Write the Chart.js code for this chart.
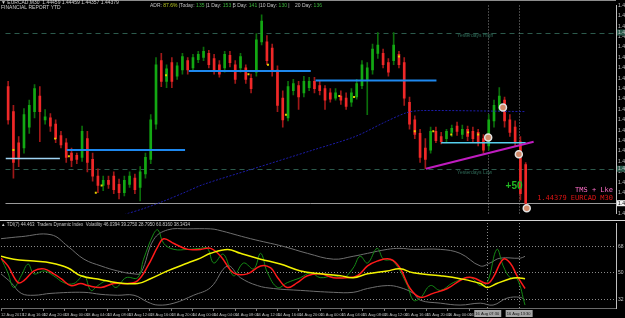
<!DOCTYPE html>
<html>
<head>
<meta charset="utf-8">
<script src="https://cdn.jsdelivr.net/npm/chart.js@4.4.1/dist/chart.umd.min.js"></script>
<style>
  html, body { margin: 0; padding: 0; background: #000; }
  #wrap { position: relative; width: 625px; height: 318px; background: #000; overflow: hidden; }
  #priceChart { position: absolute; left: 0; top: 0; }
  #tdiChart { position: absolute; left: 0; top: 219px; }
</style>
</head>
<body>
<div id="wrap">
  <canvas id="priceChart" width="625" height="219"></canvas>
  <canvas id="tdiChart" width="625" height="99"></canvas>
</div>
<script>
// EURCAD candles, one per slot
const opens = [
  1.4550,1.4526,1.4496,1.4491,1.4511,1.4526,1.4541,1.4518,1.4520,1.4514,
  1.4503,1.4496,1.4486,1.4484,1.4482,1.4500,1.4480,1.4464,1.4455,1.4460,
  1.4464,1.4456,1.4448,1.4456,1.4462,1.4453,1.4466,1.4480,1.4514,1.4575,
  1.4555,1.4573,1.4560,1.4566,1.4575,1.4568,1.4576,1.4578,1.4582,1.4577,
  1.4571,1.4568,1.4580,1.4571,1.4568,1.4568,1.4558,1.4564,1.4593,1.4593,
  1.4587,1.4566,1.4539,1.4520,1.4546,1.4551,1.4544,1.4549,1.4555,1.4551,
  1.4548,1.4544,1.4539,1.4541,1.4539,1.4535,1.4540,1.4551,1.4557,1.4566,
  1.4582,1.4582,1.4573,1.4575,1.4581,1.4573,1.4535,1.4518,1.4505,1.4491,
  1.4489,1.4507,1.4502,1.4500,1.4506,1.4512,1.4504,1.4509,1.4507,1.4506,
  1.4500,1.4493,1.4517,1.4529,1.4537,1.4518,1.4511,1.4497,1.4475
];
const highs = [
  1.4555,1.4532,1.4502,1.4529,1.4537,1.4552,1.4550,1.4528,1.4524,1.4518,
  1.4507,1.4500,1.4491,1.4486,1.4512,1.4507,1.4486,1.4471,1.4464,1.4464,
  1.4468,1.4461,1.4464,1.4468,1.4466,1.4473,1.4486,1.4523,1.4578,1.4582,
  1.4571,1.4578,1.4573,1.4582,1.4578,1.4581,1.4584,1.4588,1.4585,1.4581,
  1.4575,1.4584,1.4584,1.4575,1.4582,1.4571,1.4562,1.4601,1.4619,1.4599,
  1.4591,1.4570,1.4546,1.4555,1.4557,1.4555,1.4560,1.4559,1.4559,1.4555,
  1.4551,1.4548,1.4548,1.4546,1.4544,1.4548,1.4557,1.4575,1.4573,1.4591,
  1.4602,1.4586,1.4577,1.4602,1.4584,1.4578,1.4540,1.4522,1.4509,1.4500,
  1.4511,1.4511,1.4506,1.4509,1.4513,1.4516,1.4513,1.4512,1.4511,1.4509,
  1.4504,1.4523,1.4537,1.4549,1.4540,1.4523,1.4517,1.4502,1.4477
];
const lows = [
  1.4514,1.4462,1.4473,1.4486,1.4505,1.4520,1.4497,1.4514,1.4507,1.4496,
  1.4491,1.4477,1.4473,1.4476,1.4478,1.4468,1.4459,1.4448,1.4450,1.4452,
  1.4447,1.4442,1.4445,1.4453,1.4447,1.4440,1.4462,1.4476,1.4509,1.4550,
  1.4549,1.4549,1.4557,1.4562,1.4562,1.4566,1.4573,1.4575,1.4568,1.4562,
  1.4559,1.4564,1.4569,1.4553,1.4564,1.4553,1.4544,1.4560,1.4590,1.4571,
  1.4560,1.4526,1.4511,1.4517,1.4542,1.4528,1.4540,1.4546,1.4544,1.4542,
  1.4528,1.4535,1.4537,1.4533,1.4528,1.4531,1.4538,1.4548,1.4523,1.4562,
  1.4577,1.4568,1.4560,1.4571,1.4568,1.4532,1.4509,1.4500,1.4477,1.4471,
  1.4486,1.4496,1.4495,1.4497,1.4502,1.4503,1.4500,1.4498,1.4496,1.4493,
  1.4486,1.4489,1.4511,1.4526,1.4511,1.4502,1.4493,1.4441,1.4433
];
const closes = [
  1.4518,1.4477,1.4482,1.4523,1.4532,1.4548,1.4526,1.4521,1.4512,1.4500,
  1.4494,1.4482,1.4479,1.4480,1.4507,1.4477,1.4464,1.4455,1.4460,1.4456,
  1.4451,1.4448,1.4460,1.4464,1.4451,1.4468,1.4482,1.4518,1.4571,1.4555,
  1.4567,1.4555,1.4570,1.4579,1.4566,1.4578,1.4581,1.4584,1.4571,1.4566,
  1.4562,1.4581,1.4573,1.4557,1.4579,1.4557,1.4548,1.4595,1.4613,1.4575,
  1.4566,1.4532,1.4518,1.4550,1.4553,1.4540,1.4555,1.4555,1.4548,1.4546,
  1.4537,1.4538,1.4544,1.4537,1.4531,1.4544,1.4553,1.4571,1.4568,1.4586,
  1.4590,1.4571,1.4564,1.4590,1.4571,1.4539,1.4514,1.4504,1.4482,1.4480,
  1.4507,1.4498,1.4497,1.4507,1.4510,1.4507,1.4509,1.4502,1.4500,1.4496,
  1.4489,1.4518,1.4532,1.4541,1.4517,1.4506,1.4497,1.4447,1.44379
];

// bottom time axis, one label every 4 slots
const timeLabels = [
  '12 Aug 2013','12 Aug 16:00','12 Aug 20:00','13 Aug 00:00','13 Aug 04:00','13 Aug 08:00',
  '13 Aug 12:00','13 Aug 16:00','13 Aug 20:00','14 Aug 00:00','14 Aug 04:00','14 Aug 08:00',
  '14 Aug 12:00','14 Aug 16:00','14 Aug 20:00','15 Aug 00:00','15 Aug 04:00','15 Aug 08:00',
  '15 Aug 12:00','15 Aug 16:00','15 Aug 20:00','16 Aug 00:00','16 Aug 04:00'
];
const slotsPerLabel = 4;

// objects on the price window
const bluePrice = [1.4565, 1.4556, 1.4489];
const blueStart = [34.2, 58.2, 11.1];
const blueEnd = [57.3, 81.1, 33.5];
const paleSlots = [-0.5, 9.8];
const palePrice = 1.4481;
const cyanSlots = [82, 98];
const cyanPrice = 1.4496;
const trendSlots = [79.1, 99.5];
const trendPrices = [1.4471, 1.4497];
const maSlots = [22, 25.8, 29.5, 33.3, 37, 46.4, 57.7, 65.7, 71.4, 75.5, 78.3, 98];
const maPrices = [1.4427, 1.4433, 1.4440, 1.4448, 1.4456, 1.4471, 1.4489, 1.4502, 1.4516, 1.4525, 1.4527, 1.4526];
const yesterdayHigh = 1.4602;
const yesterdayLow = 1.4471;
const bidPrice = 1.44379;
const signalSlots = [93.7, 90.9, 96.7, 98.2];
const signalPrices = [1.4530, 1.4501, 1.4485, 1.4433];
const fractalSlots = [1.0, 8.9, 11.5, 16.6, 17.7, 29.9, 45.5, 49.2, 52.6, 62.7, 65.5, 74, 77, 80.5, 83.9, 87.1, 89];
const fractalPrices = [1.4489, 1.4500, 1.4483, 1.4448, 1.4455, 1.4561, 1.4562, 1.4571, 1.4523, 1.4541, 1.4540, 1.4579, 1.4507, 1.4507, 1.4504, 1.4506, 1.4504];
const markerSlots = [90.9, 96.8];
const markerLabels = ['16 Aug 07:30', '16 Aug 13:30'];
const noteSlot = 94.2;
const notePrice = 1.4454;

const adrLabels = ['ADR:', 'Today:', '1 Day:', '5 Day:', '10 Day:', '20 Day:'];
const adrValues = ['87.6%', '135', '153', '141', '130', '136'];

// Traders Dynamic Index window
const tdiLevels = [32, 50, 68];
const upperSlots = [-0.5, 3.3, 8.9, 12.1, 15.1, 18.3, 21.4, 24.5, 25.8, 28.2, 30.8, 34.6, 38.9, 40.2, 46.4, 52.6, 57.1, 62, 65.7, 68.4, 72.1, 74.5, 77, 82.1, 85.8, 89.6, 91.4, 93.3, 97.1, 98];
const upperVals = [73.3, 74.7, 76, 68, 59.3, 54.7, 51.3, 49.3, 50, 72.7, 79.3, 80, 80, 79.3, 73.3, 68, 63.3, 59.3, 61.3, 63.3, 66, 66.7, 66, 66, 63.3, 54.7, 56.7, 60, 60, 61.3];
const lowerSlots = [-0.5, 1.4, 3.3, 5.7, 8.9, 15.1, 18.3, 21.4, 24.5, 27.1, 29, 32, 35.7, 38.9, 42.1, 44.5, 47.7, 50.7, 55.8, 62, 65.7, 68.4, 72.1, 74.5, 77, 78.3, 82.1, 85.8, 89.6, 92, 94.6, 97.1, 98];
const lowerVals = [49.3, 43.3, 36, 34.7, 36, 36.7, 35.3, 34.7, 34.7, 30, 28, 29.3, 34.7, 40, 54.7, 46.7, 41.3, 39.3, 38, 36.7, 36.7, 39.3, 41.3, 40, 36, 31.3, 29.3, 28, 29.3, 28, 32.7, 33.3, 31.3];
const baseSlots = [-0.5, 1.9, 5.7, 8.9, 12.1, 14.5, 18.3, 21.4, 25.2, 27.6, 30.8, 34.6, 37, 38.9, 42.1, 44.5, 48.3, 52, 55.8, 59.5, 63.3, 65.7, 68.4, 72.1, 74.5, 77, 82.1, 85.8, 89.6, 90.9, 92.7, 95.2, 96.5, 98];
const baseVals = [61.3, 59.3, 58, 56.7, 53.3, 48, 45.3, 43.3, 42.7, 46, 51.3, 56.7, 60, 63.3, 66, 63.3, 59.3, 56, 51.3, 49.3, 48, 46.7, 49.3, 51.3, 52.7, 50, 48, 46, 42.7, 40, 42.7, 46, 46.7, 46];
const signalLineSlots = [-0.5, 0.8, 2.7, 3.8, 5.7, 7.6, 9.4, 10.8, 12.6, 14.5, 15.8, 18.3, 20.7, 23.3, 25.2, 27.1, 29, 30.1, 32, 34.6, 37, 38.9, 40.8, 43.2, 45.8, 48.3, 50.2, 51.5, 53.3, 55.2, 57.1, 59.5, 62, 64.6, 66.5, 68.4, 70.2, 72.7, 74.5, 76.4, 78.3, 80.7, 83.4, 86.4, 88.2, 90.9, 92, 93.9, 95.2, 96.5, 98];
const signalLineVals = [60, 54.7, 43.3, 44.7, 51.3, 52.7, 49.3, 46, 41.3, 42.7, 41.3, 40, 42.7, 42.7, 44.7, 54.7, 68, 73.3, 70, 66, 66, 66.7, 61.3, 50, 49.3, 54.7, 53.3, 46.7, 40, 43.3, 48, 49.3, 46.7, 46.7, 48, 54.7, 58, 59.3, 53.3, 39.3, 33.3, 36, 39.3, 46, 46.7, 42.7, 46.7, 59.3, 56.7, 48, 39.3];
const rsiSlots = [-0.5, 0.8, 1.9, 3.3, 4.6, 5.7, 7.6, 9.4, 11.3, 13.2, 15.1, 16.4, 17.7, 19.6, 21.1, 23, 25.2, 26.3, 28.2, 29, 30.1, 32, 34.6, 37, 38.3, 39.5, 41.3, 43.2, 45.1, 47, 48.3, 49.6, 51.5, 53.3, 55.8, 57.7, 59.5, 62, 63.9, 65.7, 67, 68.4, 70.2, 71.4, 73.2, 75.9, 77, 78.3, 80.2, 82.1, 84.5, 87.7, 89.6, 90.9, 92.7, 93.9, 95.2, 96.5, 98];
const rsiVals = [60, 50, 40, 48, 56, 49.3, 51.3, 48, 43.3, 42.7, 48, 38, 41.3, 44.7, 40, 46.7, 46.7, 59.3, 76.7, 79.3, 70, 66, 66, 66.7, 66.7, 56.7, 62.7, 48, 56.7, 52.7, 63.3, 50, 40, 43.3, 46.7, 50, 46.7, 48, 46.7, 53.3, 61.3, 56.7, 66.7, 59.3, 58, 41.3, 31.3, 32.7, 41.3, 38, 43.3, 46.7, 41.3, 43.3, 66, 54.7, 46.7, 46, 28];

Chart.defaults.font.family = '"Liberation Sans", Arial, sans-serif';

const upBody = '#13a813', downBody = '#f02828', upWick = '#0b6e0b', downWick = '#a01818';
const isUp = closes.map((c, i) => c >= opens[i]);
const xMin = -0.5, xMax = 115.1;
const axisWidth = 9;
const toPoints = (xs, ys) => xs.map((s, i) => ({ x: s, y: ys[i] }));
const hLine = (slots, price, color, width) => ({
  type: 'line', data: slots.map(s => ({ x: s, y: price })),
  borderColor: color, borderWidth: width, pointRadius: 0, order: 2
});

const priceOverlay = {
  id: 'priceOverlay',
  beforeDatasetsDraw(chart) {
    const { ctx, chartArea: a, scales: { x, y } } = chart;
    ctx.save();
    ctx.lineWidth = 1;
    ctx.strokeStyle = '#2c5a4c';
    ctx.setLineDash([5, 4]);
    [yesterdayHigh, yesterdayLow].forEach(p => {
      const py = Math.round(y.getPixelForValue(p)) + 0.5;
      ctx.beginPath(); ctx.moveTo(a.left, py); ctx.lineTo(a.right, py); ctx.stroke();
    });
    ctx.strokeStyle = '#8a8a8a';
    ctx.setLineDash([1, 2]);
    markerSlots.forEach(s => {
      const px = Math.round(x.getPixelForValue(s)) + 0.5;
      ctx.beginPath(); ctx.moveTo(px, a.top); ctx.lineTo(px, a.bottom); ctx.stroke();
    });
    ctx.setLineDash([]);
    ctx.strokeStyle = '#9a9a9a';
    const by = Math.round(y.getPixelForValue(bidPrice)) + 0.5;
    ctx.beginPath(); ctx.moveTo(a.left, by); ctx.lineTo(a.right, by); ctx.stroke();

    ctx.font = '5px "Liberation Sans"';
    ctx.fillStyle = '#2f6a58';
    ctx.textBaseline = 'top';
    ctx.fillText('Yesterdays High', x.getPixelForValue(85), y.getPixelForValue(yesterdayHigh) + 1);
    ctx.fillText('Yesterdays Low', x.getPixelForValue(85), y.getPixelForValue(yesterdayLow) + 1);
    ctx.restore();
  },
  afterDraw(chart) {
    const { ctx, chartArea: a, scales: { x, y } } = chart;
    ctx.save();
    ctx.fillStyle = '#8c8c8c';
    ctx.fillRect(0, 0, a.right, 1);

    // price boxes on the right axis
    ctx.font = '5px "Liberation Sans"';
    ctx.textBaseline = 'middle';
    ctx.textAlign = 'left';
    [[yesterdayHigh, '#2c5a4c', '#c8c8c8'], [yesterdayLow, '#2c5a4c', '#c8c8c8'], [bidPrice, '#f0f0f0', '#000']].forEach(([p, bg, fg]) => {
      const py = y.getPixelForValue(p);
      ctx.fillStyle = bg;
      ctx.fillRect(a.right + 1, py - 3, 12, 6);
      ctx.fillStyle = fg;
      ctx.fillText(p.toFixed(5), a.right + 2, py);
    });

    // header texts
    ctx.fillStyle = '#d0d0d0';
    ctx.fillText('\u25BC EURCAD,M30  1.44459 1.44459 1.44357 1.44379', 1, 3);
    ctx.fillText('FINANCIAL REPORT YTD', 1, 8);
    const adrX = [150, 180, 207, 233, 260, 295];
    ctx.font = '5px "Liberation Sans"';
    adrLabels.forEach((lab, i) => {
      let px = adrX[i];
      ctx.fillStyle = '#c4c4c4';
      ctx.fillText(lab, px, 6);
      px += ctx.measureText(lab + ' ').width;
      ctx.fillStyle = i === 0 ? '#b8c820' : '#3cb43c';
      ctx.fillText(adrValues[i], px, 6);
      px += ctx.measureText(adrValues[i] + ' ').width;
      if (i < adrLabels.length - 1) { ctx.fillStyle = '#c4c4c4'; ctx.fillText('|', px, 6); }
    });

    // chart notes
    ctx.font = 'bold 10px "Liberation Sans"';
    ctx.fillStyle = '#22b822';
    ctx.fillText('+50', x.getPixelForValue(noteSlot), y.getPixelForValue(notePrice));
    ctx.textAlign = 'right';
    ctx.font = '7px "DejaVu Sans Mono"';
    ctx.fillStyle = '#ff6ec8';
    ctx.fillText('TMS + Lke', a.right - 3, 190);
    ctx.fillStyle = '#e01414';
    ctx.fillText(bidPrice.toFixed(5) + ' EURCAD M30', a.right - 3, 198);
    ctx.restore();
  }
};

new Chart(document.getElementById('priceChart'), {
  type: 'bar',
  data: {
    datasets: [
      {
        type: 'scatter', data: toPoints(signalSlots, signalPrices),
        pointStyle: 'circle', pointRadius: 3.5, pointBackgroundColor: '#d08a6a',
        pointBorderColor: '#e2e2e2', pointBorderWidth: 1.5, order: 0
      },
      {
        type: 'scatter', data: toPoints(fractalSlots, fractalPrices),
        pointStyle: 'rect', pointRadius: 1.4, pointBackgroundColor: '#e6d000',
        pointBorderWidth: 0, order: 1
      },
      {
        type: 'line', data: toPoints(trendSlots, trendPrices),
        borderColor: '#c01cc0', borderWidth: 2, pointRadius: 0, order: 2
      },
      ...blueStart.map((s, k) => hLine([s, blueEnd[k]], bluePrice[k], '#1e88ee', 2)),
      hLine(paleSlots, palePrice, '#9fd4f4', 1.5),
      hLine(cyanSlots, cyanPrice, '#56d0ee', 1.5),
      {
        type: 'line', data: toPoints(maSlots, maPrices),
        borderColor: '#1c1ca8', borderWidth: 1, borderDash: [2, 1.5],
        pointRadius: 0, tension: 0.3, order: 3
      },
      {
        data: opens.map((o, i) => ({ x: i, y: [o, closes[i]] })),
        backgroundColor: isUp.map(u => u ? upBody : downBody),
        barThickness: 2, grouped: false, borderWidth: 0, order: 8
      },
      {
        data: lows.map((l, i) => ({ x: i, y: [l, highs[i]] })),
        backgroundColor: isUp.map(u => u ? upWick : downWick),
        barThickness: 1, grouped: false, borderWidth: 0, order: 9
      }
    ]
  },
  options: {
    responsive: false,
    animation: false,
    events: [],
    layout: { padding: 0 },
    plugins: { legend: { display: false }, tooltip: { enabled: false } },
    scales: {
      x: { type: 'linear', min: xMin, max: xMax, offset: false, display: false },
      y: {
        position: 'right', min: 1.4428, max: 1.4628,
        afterFit: s => { s.width = axisWidth; },
        ticks: {
          stepSize: 0.001, autoSkip: false, color: '#c0c0c0', padding: 1,
          font: { size: 5 }, callback: v => v.toFixed(5)
        },
        grid: { drawOnChartArea: false, tickLength: 1, color: '#b0b0b0' },
        border: { display: true, color: '#c0c0c0' }
      }
    }
  },
  plugins: [priceOverlay]
});

const tdiOverlay = {
  id: 'tdiOverlay',
  beforeDatasetsDraw(chart) {
    const { ctx, chartArea: a, scales: { x } } = chart;
    ctx.save();
    ctx.strokeStyle = '#8a8a8a';
    ctx.lineWidth = 1;
    ctx.setLineDash([1, 2]);
    markerSlots.forEach(s => {
      const px = Math.round(x.getPixelForValue(s)) + 0.5;
      ctx.beginPath(); ctx.moveTo(px, a.top); ctx.lineTo(px, a.bottom); ctx.stroke();
    });
    ctx.restore();
  },
  afterDraw(chart) {
    const { ctx, chartArea: a, scales: { x } } = chart;
    ctx.save();
    ctx.fillStyle = '#d4d4d4';
    ctx.fillRect(0, 1, chart.width, 1);
    ctx.font = '4.5px "Liberation Sans"';
    ctx.fillStyle = '#c8c8c8';
    ctx.textBaseline = 'middle';
    ctx.fillText('\u25B2 TDI(7) 44.463  Traders Dynamic Index  Volatility 46.0394 39.2750 28.7950 60.8160 38.3434', 1, 6);
    ctx.font = '4px "Liberation Sans"';
    ctx.textAlign = 'center';
    markerSlots.forEach((s, i) => {
      const px = x.getPixelForValue(s);
      ctx.fillStyle = '#a6a6a6';
      ctx.fillRect(px - 13, a.bottom + 2, 27, 7);
      ctx.fillStyle = '#101010';
      ctx.fillText(markerLabels[i], px, a.bottom + 5.5);
    });
    ctx.restore();
  }
};

const tdiLine = (xs, ys, color, width, order) => ({
  data: toPoints(xs, ys), borderColor: color, borderWidth: width,
  pointRadius: 0, tension: 0.4, order
});

new Chart(document.getElementById('tdiChart'), {
  type: 'line',
  data: {
    datasets: [
      tdiLine(baseSlots, baseVals, '#f2f200', 1.5, 0),
      tdiLine(signalLineSlots, signalLineVals, '#ff1a1a', 1.5, 1),
      tdiLine(rsiSlots, rsiVals, '#158a15', 1, 2),
      tdiLine(upperSlots, upperVals, '#6e6e6e', 1, 3),
      tdiLine(lowerSlots, lowerVals, '#6e6e6e', 1, 4)
    ]
  },
  options: {
    responsive: false,
    animation: false,
    events: [],
    layout: { padding: { top: 2, left: 0, right: 0, bottom: 0 } },
    plugins: { legend: { display: false }, tooltip: { enabled: false } },
    scales: {
      x: {
        type: 'linear', min: xMin, max: xMax, offset: false,
        afterFit: s => { s.height = 10; },
        afterBuildTicks: s => { s.ticks = timeLabels.map((_, k) => ({ value: xMin + k * slotsPerLabel })); },
        ticks: {
          autoSkip: false, maxRotation: 0, align: 'start', padding: 1,
          color: '#bdbdbd', font: { size: 4 },
          callback: (v, i) => timeLabels[i]
        },
        grid: { drawOnChartArea: false, tickLength: 3, color: '#7a7a7a' },
        border: { display: true, color: '#6a6a6a' }
      },
      y: {
        position: 'right', min: 26, max: 84,
        afterFit: s => { s.width = axisWidth; },
        afterBuildTicks: s => { s.ticks = tdiLevels.map(v => ({ value: v })); },
        ticks: { color: '#c0c0c0', font: { size: 5 }, padding: 1 },
        grid: { color: '#8a8a8a', tickLength: 1 },
        border: { display: true, color: '#c0c0c0', dash: [1, 2] }
      }
    }
  },
  plugins: [tdiOverlay]
});
</script>
</body>
</html>
